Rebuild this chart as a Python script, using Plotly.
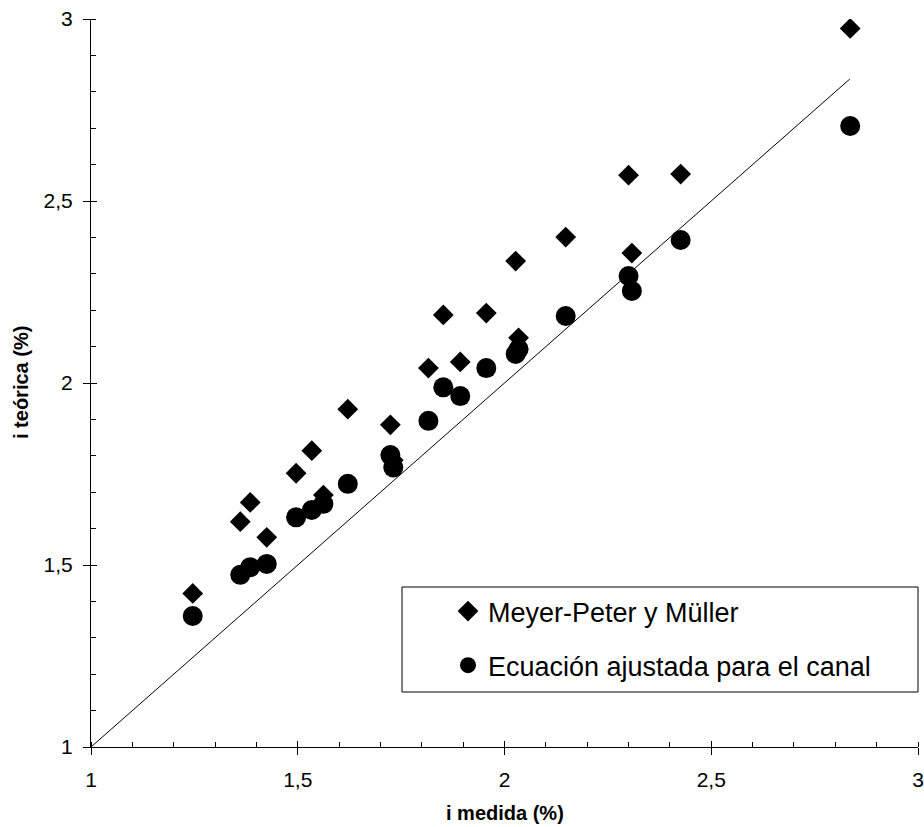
import plotly.graph_objects as go

# measured slope (%)
i_medida = [1.246, 1.361, 1.385, 1.425, 1.496, 1.534, 1.562, 1.621, 1.724, 1.731,
            1.816, 1.852, 1.893, 1.956, 2.027, 2.034, 2.148, 2.300, 2.308, 2.426, 2.836]
# Meyer-Peter y Müller
mpm = [1.422, 1.619, 1.672, 1.576, 1.752, 1.814, 1.692, 1.928, 1.885, 1.788,
       2.041, 2.187, 2.058, 2.192, 2.335, 2.124, 2.401, 2.571, 2.357, 2.574, 2.974]
# Ecuación ajustada para el canal
ajust = [1.360, 1.473, 1.494, 1.503, 1.631, 1.651, 1.668, 1.723, 1.802, 1.768,
         1.896, 1.988, 1.964, 2.041, 2.080, 2.093, 2.184, 2.294, 2.253, 2.393, 2.706]
line_x = [1, 2.835]

FONT = "Arial, Liberation Sans, sans-serif"

fig = go.Figure()
fig.add_trace(go.Scatter(x=line_x, y=line_x, mode="lines",
                         line=dict(color="black", width=1), showlegend=False,
                         hoverinfo="skip"))
fig.add_trace(go.Scatter(x=i_medida, y=mpm, mode="markers", name="Meyer-Peter y Müller",
                         legendgroup="a",
                         marker=dict(symbol="diamond", size=16, color="black")))
fig.add_trace(go.Scatter(x=i_medida, y=ajust, mode="markers", name="Ecuación ajustada para el canal",
                         legendgroup="b",
                         marker=dict(symbol="circle", size=20, color="black")))

axcommon = dict(range=[1, 3], dtick=0.5, tick0=1, showgrid=False, zeroline=False,
                showline=True, linecolor="black", linewidth=1,
                ticks="outside", ticklen=7, tickcolor="black", tickwidth=1,
                tickfont=dict(family=FONT, size=21, color="black"),
                minor=dict(dtick=0.1, ticks="inside", ticklen=5, tickcolor="black", tickwidth=1),
                automargin=False, fixedrange=True)

fig.update_layout(
    width=924, height=827,
    margin=dict(l=91, r=6, t=19, b=80),
    paper_bgcolor="white", plot_bgcolor="white",
    separators=",.",
    font=dict(family=FONT, color="black"),
    xaxis=dict(**axcommon, ticklabelstandoff=7),
    yaxis=dict(**axcommon, ticklabelstandoff=6),
    xaxis2=dict(range=[1, 3], dtick=0.5, tick0=1, overlaying="x", anchor="y", side="bottom",
                showgrid=False, zeroline=False, showline=False, showticklabels=False,
                ticks="inside", ticklen=6, tickcolor="black", tickwidth=1, automargin=False),
    yaxis2=dict(range=[1, 3], dtick=0.5, tick0=1, overlaying="y", anchor="x", side="left",
                showgrid=False, zeroline=False, showline=False, showticklabels=False,
                ticks="inside", ticklen=6, tickcolor="black", tickwidth=1, automargin=False),
    showlegend=True,
    legend=dict(x=(448 - 91) / 827, y=(747 - 587) / 728, xanchor="left", yanchor="top",
                bgcolor="rgba(0,0,0,0)", borderwidth=0,
                font=dict(family=FONT, size=27, color="black"),
                tracegroupgap=16, traceorder="grouped", itemwidth=30),
    shapes=[dict(type="rect", xref="paper", yref="paper",
                 x0=(402 - 91) / 827, x1=1.0, y0=(747 - 692) / 728, y1=(747 - 587) / 728,
                 line=dict(color="black", width=1), fillcolor="rgba(0,0,0,0)")],
    annotations=[
        dict(text="<b>i medida (%)</b>", xref="paper", yref="paper", x=0.5,
             y=-(813 - 747) / 728, xanchor="center", yanchor="middle", showarrow=False,
             font=dict(family=FONT, size=20, color="black")),
        dict(text="<b>i teórica (%)</b>", xref="paper", yref="paper", x=(21 - 91) / 827,
             y=0.5, xanchor="center", yanchor="middle", showarrow=False, textangle=-90,
             font=dict(family=FONT, size=20, color="black")),
    ],
)
# invisible trace so the overlay axes (crossing major ticks) render
fig.add_trace(go.Scatter(x=[1], y=[1], xaxis="x2", yaxis="y2", mode="markers",
                         marker=dict(opacity=0), showlegend=False, hoverinfo="skip"))

fig.write_html("out.html")
